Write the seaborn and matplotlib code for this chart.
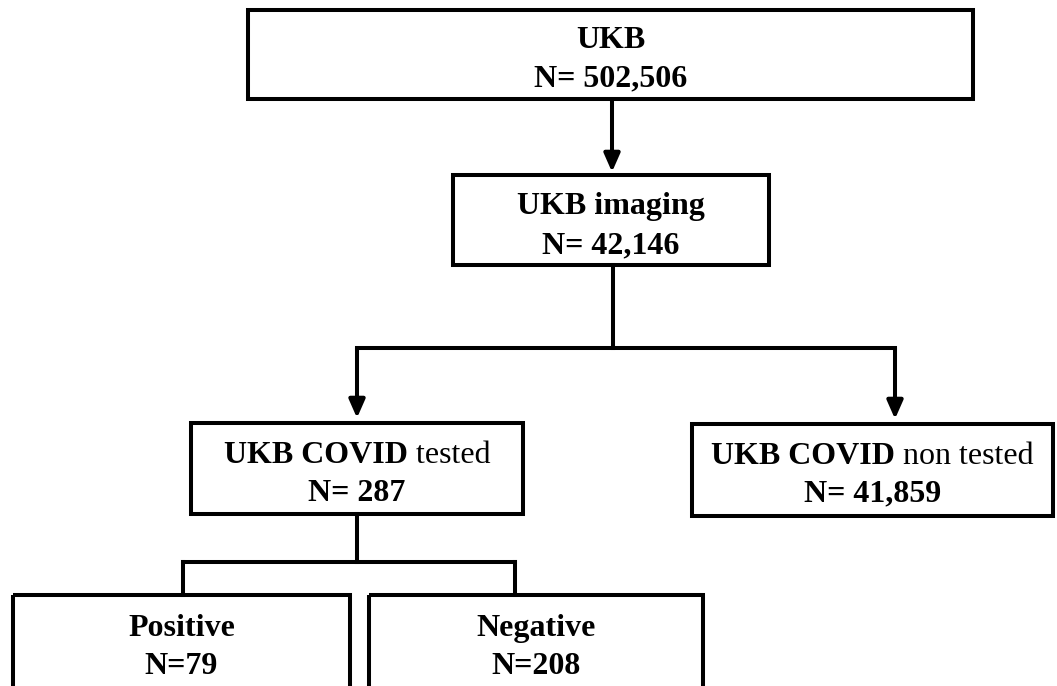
import matplotlib
matplotlib.use("Agg")
import matplotlib.pyplot as plt
import seaborn as sns
import pandas as pd
from matplotlib.patches import Rectangle

# ---- data (flowchart content) ----
box_bold = ["UKB", "UKB imaging", "UKB COVID", "UKB COVID", "Positive", "Negative"]
box_plain = ["", "", " tested", " non tested", "", ""]
box_counts = ["N= 502,506", "N= 42,146", "N= 287", "N= 41,859", "N=79", "N=208"]

# ---- layout (pixel coordinates, y downwards) ----
box_left = [248, 453, 191, 692, 13, 369]
box_top = [10, 175, 423, 424, 595, 595]
box_right = [973, 769, 523, 1053, 350, 703]
box_bottom = [99, 265, 514, 516, 720, 720]
line1_y = [37, 203, 452, 453, 625, 625]
line2_y = [75, 242, 490, 490, 663, 663]
TEXT_DY = 3.5

sns.set_theme(style="white")
plt.rcParams["font.family"] = ["Liberation Serif", "DejaVu Serif"]

W, H = 1057, 686
fig = plt.figure(figsize=(W / 100, H / 100), dpi=100)
ax = fig.add_axes([0, 0, 1, 1])
ax.set_xlim(0, W)
ax.set_ylim(H, 0)
ax.axis("off")

LW = 2.9
FS = 23

# boxes
for l, t, r, b in zip(box_left, box_top, box_right, box_bottom):
    ax.add_patch(Rectangle((l, t), r - l, b - t, fill=False, lw=LW,
                           edgecolor="black", joinstyle="miter"))

fig.canvas.draw()
renderer = fig.canvas.get_renderer()
inv = ax.transData.inverted()


def mixed_text(xc, y, parts):
    texts = []
    for s, w in parts:
        if not s:
            continue
        texts.append(ax.text(0, y + TEXT_DY, s, fontsize=FS, fontweight=w,
                             color="black", ha="left", va="center"))
    widths = []
    for t in texts:
        bb = t.get_window_extent(renderer=renderer)
        x0 = inv.transform((bb.x0, 0))[0]
        x1 = inv.transform((bb.x1, 0))[0]
        widths.append(x1 - x0)
    total = sum(widths)
    x = xc - total / 2
    for t, w in zip(texts, widths):
        t.set_x(x)
        x += w


for i in range(len(box_bold)):
    xc = (box_left[i] + box_right[i]) / 2
    mixed_text(xc, line1_y[i], [(box_bold[i], "bold"), (box_plain[i], "normal")])
    mixed_text(xc, line2_y[i], [(box_counts[i], "bold")])

# connector segments (no arrowheads)
segments = [
    ([613, 613], [265, 348]),
    ([357, 895], [348, 348]),
    ([357, 357], [514, 562]),
    ([183, 515], [562, 562]),
    ([183, 183], [562, 595]),
    ([515, 515], [562, 595]),
]
for xs, ys in segments:
    df = pd.DataFrame({"x": xs, "y": ys})
    sns.lineplot(data=df, x="x", y="y", ax=ax, color="black", lw=LW,
                 sort=False, estimator=None, legend=False,
                 solid_capstyle="projecting")

# arrows
arrows = [((612, 99), (612, 172)), ((357, 348), (357, 418)), ((895, 348), (895, 419))]
for (x0, y0), (x1, y1) in arrows:
    ax.annotate("", xy=(x1, y1), xytext=(x0, y0),
                arrowprops=dict(arrowstyle="-|>,head_length=0.5,head_width=0.22",
                                mutation_scale=22, lw=LW, color="black",
                                shrinkA=0, shrinkB=0))

ax.set_xlim(0, W)
ax.set_ylim(H, 0)
ax.axis("off")
fig.savefig("out.png", dpi=100, facecolor="white")
